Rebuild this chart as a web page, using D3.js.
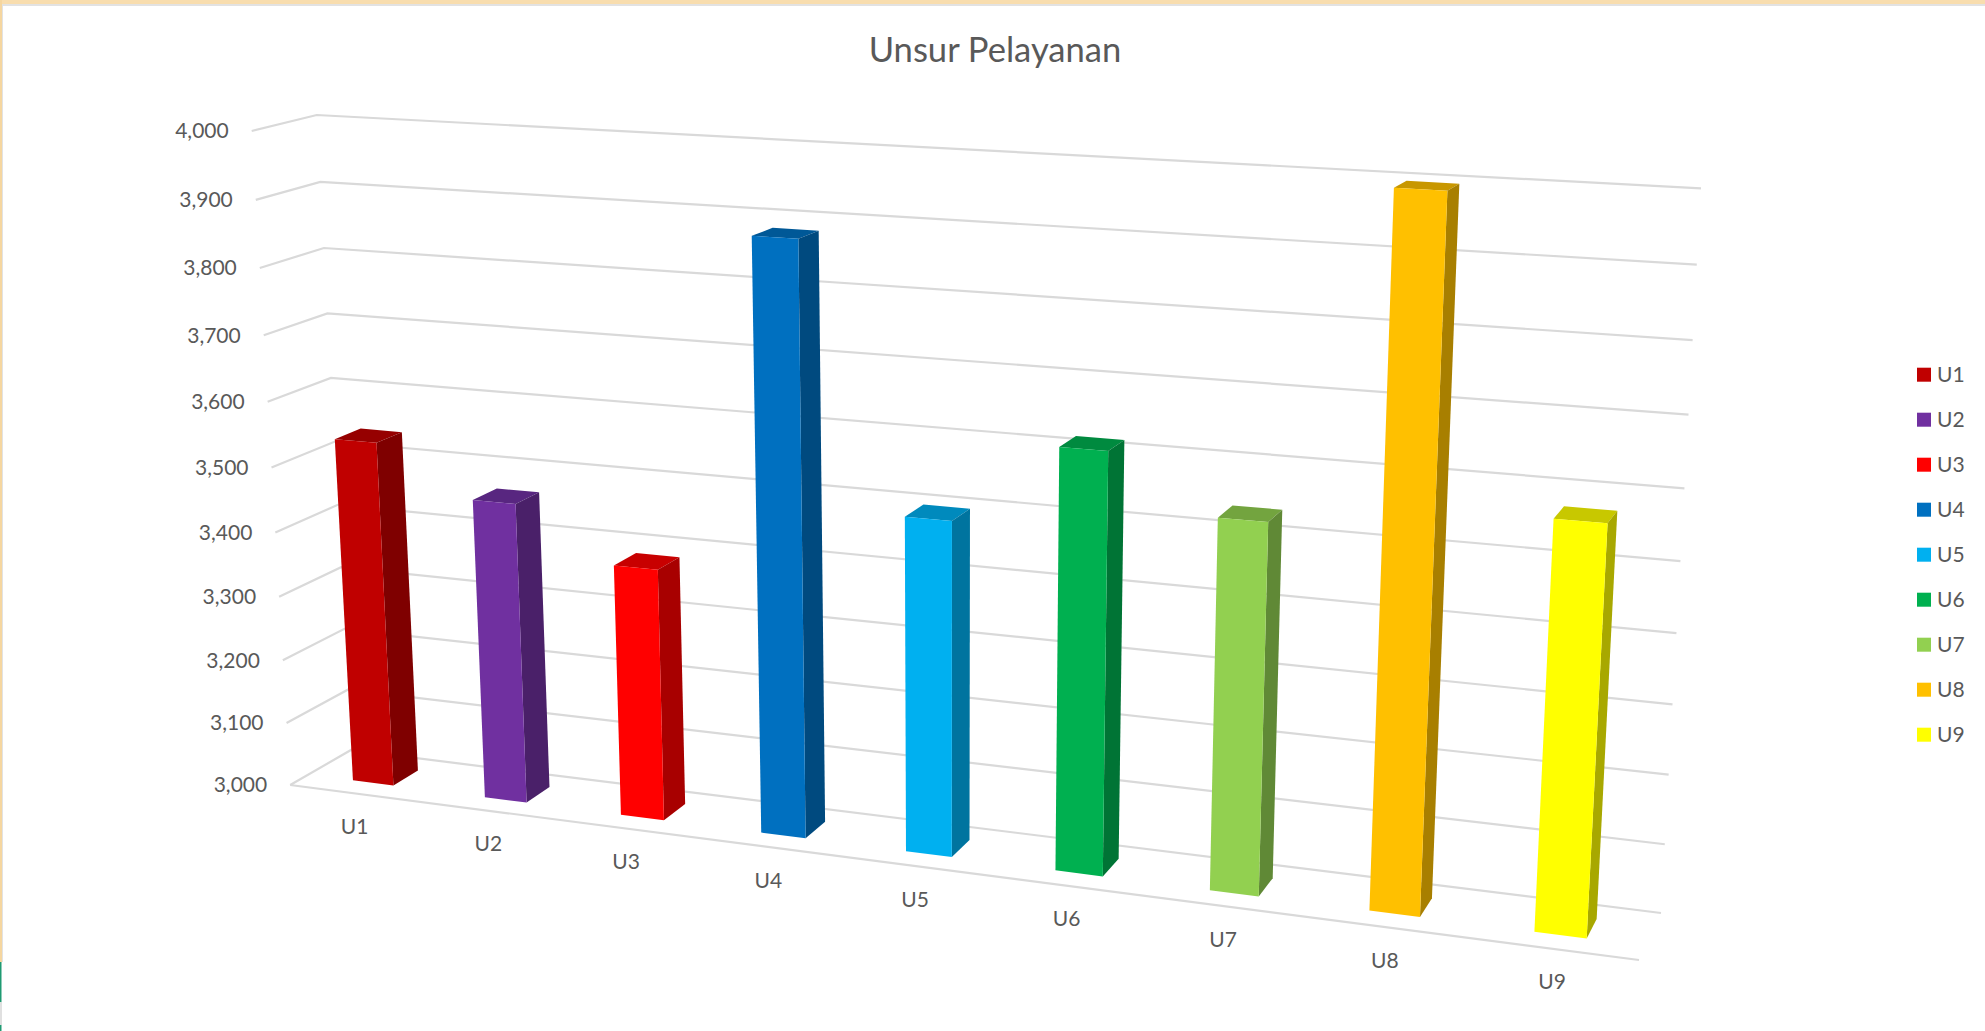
<!DOCTYPE html>
<html><head><meta charset="utf-8">
<script src="https://cdn.jsdelivr.net/npm/d3@7"></script>
<style>html,body{margin:0;padding:0;background:#fff;overflow:hidden}svg{display:block}text{font-family:Lato,"Open Sans",sans-serif;fill:#595959}</style>
</head><body><svg id="c" width="1985" height="1031"></svg>
<script>
const title = "Unsur Pelayanan";
const categories = ["U1","U2","U3","U4","U5","U6","U7","U8","U9"];
const values = [3538,3464,3385,3882,3498,3616,3536,3996,3574];
const colors = ["#C00000","#7030A0","#FF0000","#0070C0","#00B0F0","#00B050","#92D050","#FFC000","#FFFF00"];
const sideColors = ["#7F0000","#4A2069","#A80000","#004A7F","#00749F","#007435","#608936","#A87F00","#A8A800"];
const topColors = ["#960000","#582680","#C80000","#005897","#008ABD","#008A3F","#73A43F","#C89700","#C8C800"];
const tickValues = [3000,3100,3200,3300,3400,3500,3600,3700,3800,3900,4000];

// projected corners of the chart box, [u][depth][height]
const P = {
  "000":[290.2,785],"001":[251.7,131],"010":[351,750],"011":[316.7,115],
  "100":[1639,960],"101":[1680,205],"110":[1661,913],"111":[1701,188.3]
};
const W = {u:[1.155,1],d:[1,1.04],h:[1.06,1]};
function project(u,d,h){
  let sx=0,sy=0,sw=0;
  for(const a of [0,1])for(const b of [0,1])for(const c of [0,1]){
    const t=(a?u:1-u)*(b?d:1-d)*(c?h:1-h)*W.u[a]*W.d[b]*W.h[c];
    const p=P[""+a+b+c];sx+=t*p[0];sy+=t*p[1];sw+=t;
  }
  return [sx/sw,sy/sw];
}
const svg=d3.select("#c");
const y=d3.scaleLinear().domain([3000,4000]).range([0,1]);
const x=d3.scaleBand().domain(categories).range([0,1]).paddingInner(0.69).paddingOuter(0.345);
const dFront=0.29,dBack=0.71;
const line=d3.line();

// window chrome
const chrome=svg.append("g");
chrome.append("rect").attr("x",0).attr("y",0).attr("width",1985).attr("height",4).attr("fill","#F8DDAE");
chrome.append("rect").attr("x",0).attr("y",4).attr("width",1985).attr("height",2).attr("fill","#E2E2E2");
chrome.append("rect").attr("x",0).attr("y",0).attr("width",2).attr("height",962).attr("fill","#F5D6A0");
chrome.append("rect").attr("x",2).attr("y",6).attr("width",1).attr("height",956).attr("fill","#E2E2E2");
chrome.append("rect").attr("x",0).attr("y",962).attr("width",1.5).attr("height",40).attr("fill","#1F9A72");
chrome.append("rect").attr("x",0).attr("y",1002).attr("width",2).attr("height",23).attr("fill","#E0E0E0");
chrome.append("rect").attr("x",0).attr("y",1025).attr("width",1.5).attr("height",6).attr("fill","#1F9A72");

// gridlines
const grid=svg.append("g").attr("fill","none").attr("stroke","#D9D9D9").attr("stroke-width",2.2);
grid.selectAll("path.g").data(tickValues).join("path").attr("class","g")
  .attr("d",v=>line([project(0,0,y(v)),project(0,1,y(v)),project(1,1,y(v))]));
grid.append("path").attr("d",line([project(0,0,0),project(1,0,0)]));

// tick labels
svg.append("g").selectAll("text").data(tickValues).join("text")
  .attr("x",v=>project(0,0,y(v))[0]-23).attr("y",v=>project(0,0,y(v))[1])
  .attr("dy","0.35em").attr("text-anchor","end").attr("font-size",21)
  .text(d3.format(","));

// bars
const bars=svg.append("g").selectAll("g").data(categories).join("g");
bars.each(function(c,i){
  const g=d3.select(this),u0=x(c),u1=u0+x.bandwidth(),h=y(values[i]);
  const face=(pts,col)=>g.append("path").attr("d",line(pts)+"Z").attr("fill",col);
  face([project(u0,dFront,h),project(u1,dFront,h),project(u1,dBack,h),project(u0,dBack,h)],topColors[i]);
  face([project(u1,dFront,0),project(u1,dBack,0),project(u1,dBack,h),project(u1,dFront,h)],sideColors[i]);
  face([project(u0,dFront,0),project(u1,dFront,0),project(u1,dFront,h),project(u0,dFront,h)],colors[i]);
});

// category labels
svg.append("g").selectAll("text").data(categories).join("text")
  .attr("x",c=>project(x(c)+x.bandwidth()/2,0,0)[0]-1)
  .attr("y",c=>project(x(c)+x.bandwidth()/2,0,0)[1]+33)
  .attr("dy","0.35em").attr("text-anchor","middle").attr("font-size",21)
  .text(d=>d);

// legend
const leg=svg.append("g").selectAll("g").data(categories).join("g")
  .attr("transform",(c,i)=>`translate(1917,${374.7+i*45})`);
leg.append("rect").attr("y",-7).attr("width",14).attr("height",14).attr("fill",(c,i)=>colors[i]);
leg.append("text").attr("x",20).attr("dy","0.35em").attr("font-size",21).text(d=>d);

svg.append("text").attr("x",995).attr("y",50).attr("dy","0.35em").attr("text-anchor","middle")
  .attr("font-size",34.6).text(title);
</script></body></html>
